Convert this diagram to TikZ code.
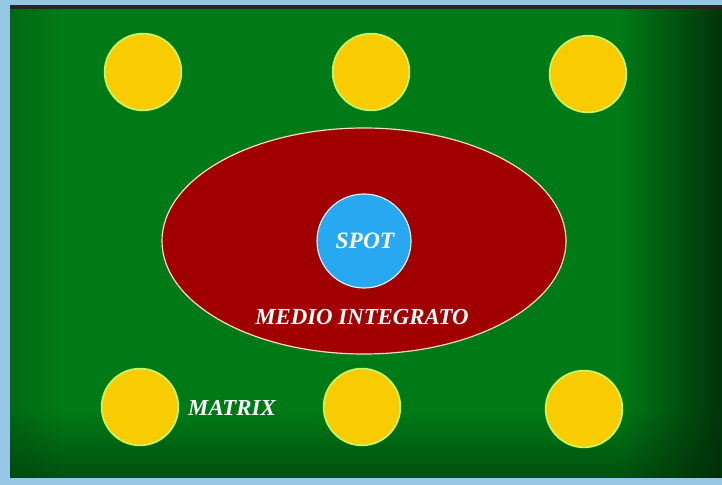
\documentclass[tikz,border=0pt]{standalone}
\usepackage{fontspec}
\setmainfont{Liberation Serif}
\usetikzlibrary{shapes.geometric,fadings}
\definecolor{framebl}{RGB}{150,200,230}
\definecolor{bggreen}{RGB}{0,122,22}
\definecolor{darkgreen}{RGB}{0,40,8}
\definecolor{dotyellow}{RGB}{248,204,0}
\definecolor{dotrim}{RGB}{200,245,100}
\definecolor{ellred}{RGB}{160,0,0}
\definecolor{ellrim}{RGB}{255,220,200}
\definecolor{spotblue}{RGB}{40,168,240}
\tikzset{
  dot/.style={circle, fill=dotyellow, draw=dotrim, line width=1.5pt, minimum size=2.3cm, inner sep=0pt},
  lbl/.style={text=white, font=\bfseries\itshape},
}
\begin{document}
\begin{tikzpicture}[x=0.03cm,y=-0.03cm]
\useasboundingbox (0,0) rectangle (722,485);
\fill[framebl] (0,0) rectangle (722,485);
\fill[bggreen] (10,6) rectangle (722,478);
\fill[darkgreen, path fading=west, fill opacity=0.85] (620,6) rectangle (722,478);
\fill[darkgreen, path fading=north, fill opacity=0.5] (10,410) rectangle (722,478);
\fill[darkgreen, path fading=east, fill opacity=0.2] (10,6) rectangle (60,478);
\fill[black!85] (10,5) rectangle (722,9);
% ellipse
\node[ellipse, fill=ellred, draw=ellrim, line width=1pt, minimum width=404*0.03cm, minimum height=226*0.03cm, inner sep=0pt] (med) at (364,241) {};
\node[circle, fill=spotblue, draw=white!85!spotblue, line width=1pt, minimum size=94*0.03cm, inner sep=0pt] (spot) at (364,241) {};
\node[lbl, font=\bfseries\itshape\fontsize{20}{24}\selectfont] (spott) at (365,241) {SPOT};
\node[lbl, font=\bfseries\itshape\fontsize{19.5}{23}\selectfont] (medt) at (362,317) {MEDIO INTEGRATO};
% dots
\node[dot] (d1) at (143,72) {};
\node[dot] (d2) at (371,72) {};
\node[dot] (d3) at (588,74) {};
\node[dot] (d4) at (140,407) {};
\node[dot] (d5) at (362,407) {};
\node[dot] (d6) at (584,409) {};
\node[lbl, font=\bfseries\itshape\fontsize{19.5}{23}\selectfont] (mat) at (232,408) {MATRIX};
\end{tikzpicture}
\end{document}
